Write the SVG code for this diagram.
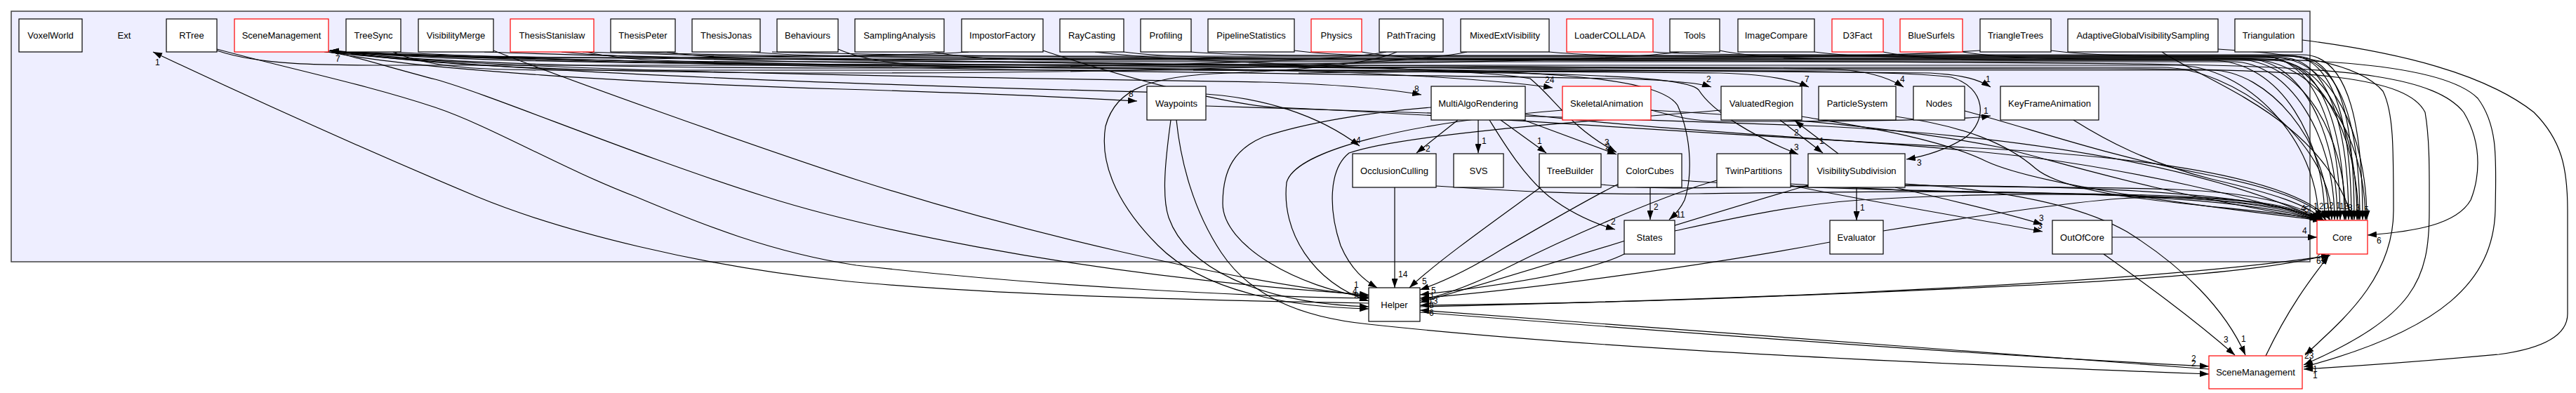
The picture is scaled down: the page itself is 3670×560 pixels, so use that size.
<svg xmlns="http://www.w3.org/2000/svg" width="3670" height="560" viewBox="0 0 3670 560">
<defs>
<marker id="ah" viewBox="0 0 13 9" refX="13" refY="4.5" markerWidth="13" markerHeight="9" markerUnits="userSpaceOnUse" orient="auto"><path d="M0,0 L13,4.5 L0,9 z" fill="#000"/></marker>
<style>
.n{fill:#fff;stroke:#000;stroke-width:1.2}
.r{fill:#fff;stroke:#ff0000;stroke-width:1.2}
.t{font-family:"Liberation Sans",Arial,Helvetica,sans-serif;font-size:13px;fill:#000;text-anchor:middle}
.e{fill:none;stroke:#000;stroke-width:1.2;marker-end:url(#ah)}
.l{font-family:"Liberation Sans",Arial,Helvetica,sans-serif;font-size:12px;fill:#000}
</style>
</defs>
<rect width="3670" height="560" fill="#fff"/>
<g id="cluster"><rect x="16" y="16" width="3275" height="357" fill="#eeeeff" stroke="#404040" stroke-width="1.5"/></g>

<g id="connectors">
<!-- into SceneManagement (top) -->
<path class="e" d="M2821,72 C2650,84 2200,84 1700,84 C1100,86 650,84 470,72"/>
<path class="e" d="M2392,74 C2300,88 1900,92 1500,92 C1000,92 650,90 470,72"/>
<path class="e" d="M1975,74 C1900,90 1500,97 1200,97 C900,97 620,92 470,72"/>
<path class="e" d="M2090,74 C2000,94 1600,104 1200,104 C850,104 620,95 470,72"/>
<path class="e" d="M1380,74 C1300,80 1000,82 800,82 C650,82 540,78 470,72"/>
<!-- Helper -> Ext -->
<path class="e" d="M1950,432 C1700,428 1400,420 1200,400 C1000,380 800,330 679,280 C560,230 400,160 218,74"/>
<!-- into Helper from left -->
<path class="e" d="M309,70 C420,100 520,120 620,153 C700,180 800,240 905,280 C1000,320 1100,360 1220,378 C1500,410 1800,423 1950,425"/>
<path class="e" d="M468,72 C520,85 570,100 620,113 C700,135 900,220 1090,280 C1200,315 1500,390 1950,420"/>
<path class="e" d="M703,72 C800,110 1050,200 1220,256 C1450,330 1750,400 1950,422"/>
<path class="e" d="M1668,171 C1660,230 1655,280 1665,310 C1690,380 1790,432 1950,437"/>
<path class="e" d="M1990,74 C1950,92 1850,100 1750,104 C1640,108 1590,125 1575,180 C1565,240 1600,300 1650,350 C1720,420 1850,438 1950,440"/>
<path class="e" d="M2039,153 C1950,160 1860,175 1800,195 C1760,212 1742,240 1742,290 C1742,350 1850,410 1950,424"/>
<path class="e" d="M2226,157 C2000,175 1845,215 1833,260 C1825,330 1870,402 1950,429"/>
<path class="e" d="M2452,157 C2300,170 2000,190 1922,218 C1892,242 1893,300 1910,350 C1925,385 1945,400 1962,410"/>
<!-- into Helper from top/right -->
<path class="e" d="M1987,267 L1987,410"/>
<path class="e" d="M2196,266 C2150,300 2050,370 2008,410"/>
<path class="e" d="M2306,262 C2260,285 2200,320 2140,355 C2100,380 2060,400 2023,413"/>
<path class="e" d="M2316,361 C2280,380 2200,400 2023,420"/>
<path class="e" d="M2607,345 C2450,375 2200,410 2023,425"/>
<path class="e" d="M2446,257 C2380,275 2250,330 2150,380 C2100,405 2060,420 2023,428"/>
<path class="e" d="M2576,264 C2450,300 2250,365 2023,431"/>
<path class="e" d="M3318,363 C3200,392 3000,405 2400,427 C2200,433 2100,434 2023,435"/>
<path class="e" d="M2023,437 C2300,431 3000,412 3320,364"/>
<path class="e" d="M3147,526 C2800,500 2400,470 2023,442"/>
<path class="e" d="M2023,445 C2400,474 2800,505 3147,522"/>
<path class="e" d="M1676,171 C1682,230 1700,300 1740,360 C1780,420 1850,452 1950,462 C2300,500 2800,520 3147,533"/>
<!-- middle edges -->
<path class="e" d="M468,74 C600,100 900,118 1200,127 C1400,133 1550,140 1620,144"/>
<path class="e" d="M466,74 C700,100 1200,108 1800,117 C1900,120 1980,127 2025,135"/>
<path class="e" d="M462,74 C900,92 1600,96 1800,100 C1950,103 2120,112 2212,125"/>
<path class="e" d="M464,74 C800,110 1400,125 1700,133 C1800,137 1880,165 1937,208"/>
<path class="e" d="M2077,171 L2018,218"/>
<path class="e" d="M2106,171 L2106,218"/>
<path class="e" d="M2138,171 L2203,218"/>
<path class="e" d="M2168,170 L2303,220"/>
<path class="e" d="M1560,74 C1700,92 2100,96 2180,112 C2215,140 2235,180 2303,217"/>
<path class="e" d="M2122,171 C2140,200 2170,250 2207,280 C2240,305 2270,318 2301,327"/>
<path class="e" d="M2351,267 L2351,313"/>
<path class="e" d="M1850,96 C2150,100 2360,104 2390,150 C2412,200 2410,255 2400,285 C2394,298 2386,306 2378,313"/>
<path class="e" d="M470,74 C900,96 2000,106 2300,112 C2380,114 2420,118 2438,124"/>
<path class="e" d="M560,74 C1000,100 2100,100 2450,104 C2520,106 2555,114 2577,124"/>
<path class="e" d="M690,74 C1200,92 2200,94 2600,98 C2660,100 2690,110 2712,124"/>
<path class="e" d="M830,74 C1400,92 2300,100 2750,104 C2800,107 2820,114 2836,124"/>
<path class="e" d="M2352,157 C2380,163 2400,172 2450,173 C2600,173 2795,172 2836,165"/>
<path class="e" d="M2536,171 L2597,218"/>
<path class="e" d="M2619,219 L2557,172"/>
<path class="e" d="M1700,100 C2200,102 2400,106 2420,128 C2440,160 2500,195 2562,220"/>
<path class="e" d="M1850,104 C2300,100 2700,98 2780,110 C2830,125 2832,172 2800,196 C2772,214 2745,222 2716,227"/>
<path class="e" d="M2645,267 L2645,314"/>
<path class="e" d="M2700,267 C2800,290 2880,310 2910,320"/>
<path class="e" d="M2551,264 C2650,285 2850,318 2910,330"/>
<path class="e" d="M3009,338 L3301,338"/>
<!-- into Core from middle nodes -->
<path class="e" d="M2683,329 C2800,310 2950,288 3020,283 C3150,276 3262,290 3302,313"/>
<path class="e" d="M2386,329 C2450,315 2550,292 2650,285 C2850,272 3200,270 3303,314"/>
<path class="e" d="M2396,257 C2600,272 2900,274 3060,278 C3200,282 3275,292 3305,314"/>
<path class="e" d="M2714,263 C2850,268 3000,266 3100,270 C3200,274 3278,290 3306,314"/>
<path class="e" d="M2551,262 C2620,266 2700,272 2800,274 C3000,276 3250,280 3307,314"/>
<path class="e" d="M2046,265 C2150,272 2250,278 2420,276 C2700,272 3150,265 3304,314"/>
<path class="e" d="M2281,263 C2350,270 2420,268 2500,266 C2800,262 3200,262 3305,313"/>
<path class="e" d="M2954,171 C3000,200 3060,232 3150,255 C3240,276 3290,292 3310,314"/>
<path class="e" d="M2799,158 C2900,185 3000,222 3150,250 C3250,270 3300,292 3314,314"/>
<path class="e" d="M2701,166 C2800,180 2860,205 2900,240 C2960,290 3200,292 3312,314"/>
<path class="e" d="M2567,166 C2650,180 2760,196 2830,230 C2900,262 3100,290 3308,314"/>
<path class="e" d="M2352,157 C2500,165 2700,180 2850,210 C2950,235 3050,270 3309,314"/>
<path class="e" d="M2173,163 C2400,190 2700,200 2900,225 C3050,245 3200,280 3311,314"/>
<path class="e" d="M1718,151 C1900,158 2300,168 2600,180 C2900,195 3150,240 3308,314"/>
<path class="e" d="M1486,72 C1600,110 1750,150 1820,153 C2100,165 2400,190 2800,210 C3100,225 3270,260 3320,313"/>
<!-- top row bundle into Core -->
<path class="e" d="M309,72 C370,93 460,93 560,93 L3100,93 C3200,93 3303,200 3303,313"/>
<path class="e" d="M560,74 C620,100 710,100 810,100 L3150,100 C3230,100 3318,200 3318,313"/>
<path class="e" d="M835,74 C895,88 985,88 1085,88 L3180,88 C3260,88 3326,190 3326,313"/>
<path class="e" d="M950,74 C1010,84 1100,84 1200,84 L3200,84 C3280,84 3330,190 3330,313"/>
<path class="e" d="M1070,74 C1130,80 1220,80 1320,80 L3220,80 C3300,80 3334,190 3334,313"/>
<path class="e" d="M1194,70 C1254,96 1344,96 1444,96 L3080,96 C3180,96 3322,200 3322,313"/>
<path class="e" d="M1330,74 C1390,86 1480,86 1580,86 L3240,86 C3310,86 3340,190 3340,313"/>
<path class="e" d="M1601,74 C1661,82 1751,82 1851,82 L3250,82 C3320,82 3346,190 3346,313"/>
<path class="e" d="M1697,74 C1757,79 1847,79 1947,79 L3260,79 C3330,79 3350,190 3350,313"/>
<path class="e" d="M1844,72 C1904,80 1994,80 2094,80 L3270,80 C3340,80 3354,190 3354,313"/>
<path class="e" d="M1940,74 C2000,85 2090,85 2190,85 L3230,85 C3320,85 3358,190 3358,313"/>
<path class="e" d="M2207,74 C2267,80 2357,80 2457,80 L3260,80 C3340,80 3362,190 3362,313"/>
<path class="e" d="M2355,74 C2415,78 2505,78 2605,78 L3280,78 C3350,78 3366,190 3366,313"/>
<path class="e" d="M2450,72 C2510,84 2600,84 2700,84 L3200,84 C3300,84 3370,190 3370,313"/>
<path class="e" d="M2585,74 C2645,82 2735,82 2835,82 L3240,82 C3320,82 3372,190 3372,313"/>
<path class="e" d="M2683,74 C2743,86 2833,86 2933,86 L3150,86 C3250,86 3312,200 3312,313"/>
<path class="e" d="M2796,74 C2856,84 2946,84 3046,84 L3180,84 C3280,84 3342,190 3342,313"/>
<path class="e" d="M2922,72 C2982,80 3072,80 3172,80 L3220,80 C3300,80 3360,190 3360,313"/>
<path class="e" d="M3080,74 C3150,120 3310,170 3352,313"/>
<!-- right side curves -->
<path class="e" d="M3160,70 C3260,76 3360,88 3395,130 C3410,160 3410,210 3410,300 C3410,400 3330,462 3284,506"/>
<path class="e" d="M3280,57 C3420,75 3540,105 3610,160 C3650,200 3658,240 3658,300 L3658,447 C3658,480 3620,497 3560,505 C3450,515 3350,522 3282,526"/>
<path class="e" d="M800,74 C1000,95 2000,98 3000,98 C3300,98 3430,110 3455,160 C3462,200 3461,250 3461,300 C3461,400 3440,450 3282,520"/>
<path class="e" d="M900,74 C1200,88 2500,84 3000,82 C3300,80 3480,90 3530,140 C3560,180 3556,230 3555,300 C3552,400 3480,470 3282,523"/>
<path class="e" d="M1100,74 C1500,86 2800,86 3100,92 C3350,96 3470,110 3510,160 C3540,210 3530,260 3520,285 C3500,320 3440,330 3373,335"/>
<path class="e" d="M3228,507 C3260,440 3290,400 3318,364"/>
<path class="e" d="M2714,262 C2850,270 2960,290 3030,330 C3110,380 3170,440 3199,506"/>
<path class="e" d="M2997,362 C3050,400 3120,450 3184,506"/>
</g>

<g id="edge-labels">
<text class="l" x="478" y="88">7</text>
<text class="l" x="221" y="93">1</text>
<text class="l" x="1929" y="410">1</text>
<text class="l" x="1927" y="419">4</text>
<text class="l" x="1929" y="425">2</text>
<text class="l" x="1608" y="138">8</text>
<text class="l" x="2015" y="131">8</text>
<text class="l" x="2201" y="118">24</text>
<text class="l" x="1932" y="204">4</text>
<text class="l" x="2031" y="216">2</text>
<text class="l" x="2111" y="205">1</text>
<text class="l" x="2190" y="205">1</text>
<text class="l" x="2286" y="207">3</text>
<text class="l" x="2287" y="213">2</text>
<text class="l" x="2295" y="320">2</text>
<text class="l" x="2356" y="299">2</text>
<text class="l" x="2388" y="310">11</text>
<text class="l" x="2431" y="117">2</text>
<text class="l" x="2571" y="117">7</text>
<text class="l" x="2707" y="117">4</text>
<text class="l" x="2829" y="117">1</text>
<text class="l" x="2826" y="162">1</text>
<text class="l" x="2592" y="205">1</text>
<text class="l" x="2556" y="193">2</text>
<text class="l" x="2556" y="214">3</text>
<text class="l" x="2731" y="236">3</text>
<text class="l" x="2650" y="300">1</text>
<text class="l" x="2905" y="315">3</text>
<text class="l" x="2903" y="326">3</text>
<text class="l" x="3280" y="333">4</text>
<text class="l" x="1992" y="395">14</text>
<text class="l" x="2026" y="405">5</text>
<text class="l" x="2039" y="418">5</text>
<text class="l" x="2037" y="427">1</text>
<text class="l" x="2035" y="433">13</text>
<text class="l" x="2036" y="439">8</text>
<text class="l" x="2036" y="450">6</text>
<text class="l" x="3122" y="515">2</text>
<text class="l" x="3122" y="522">2</text>
<text class="l" x="3168" y="488">3</text>
<text class="l" x="3193" y="487">1</text>
<text class="l" x="3283" y="511">23</text>
<text class="l" x="3295" y="530">1</text>
<text class="l" x="3295" y="539">1</text>
<text class="l" x="3386" y="347">6</text>
<text class="l" x="3300" y="367">22</text>
<text class="l" x="3300" y="376">65</text>
<text class="l" x="3278" y="301">4</text>
<text class="l" x="3283" y="303">5</text>
<text class="l" x="3296" y="298">1</text>
<text class="l" x="3304" y="298">20</text>
<text class="l" x="3318" y="297">2</text>
<text class="l" x="3328" y="297">1</text>
<text class="l" x="3333" y="298">13</text>
<text class="l" x="3345" y="300">8</text>
<text class="l" x="3356" y="300">3</text>
<text class="l" x="3368" y="303">5</text>
</g>

<g id="VoxelWorld"><rect class="n" x="27" y="27" width="90" height="47"/><text class="t" x="72" y="55">VoxelWorld</text></g>
<g id="Ext"><text class="t" x="177" y="55">Ext</text></g>
<g id="RTree"><rect class="n" x="237" y="27" width="72" height="47"/><text class="t" x="273" y="55">RTree</text></g>
<g id="SceneManagementTop"><rect class="r" x="334" y="27" width="134" height="47"/><text class="t" x="401" y="55">SceneManagement</text></g>
<g id="TreeSync"><rect class="n" x="493" y="27" width="78" height="47"/><text class="t" x="532" y="55">TreeSync</text></g>
<g id="VisibilityMerge"><rect class="n" x="596" y="27" width="107" height="47"/><text class="t" x="649.5" y="55">VisibilityMerge</text></g>
<g id="ThesisStanislaw"><rect class="r" x="727" y="27" width="119" height="47"/><text class="t" x="786.5" y="55">ThesisStanislaw</text></g>
<g id="ThesisPeter"><rect class="n" x="870" y="27" width="92" height="47"/><text class="t" x="916" y="55">ThesisPeter</text></g>
<g id="ThesisJonas"><rect class="n" x="986" y="27" width="97" height="47"/><text class="t" x="1034.5" y="55">ThesisJonas</text></g>
<g id="Behaviours"><rect class="n" x="1107" y="27" width="87" height="47"/><text class="t" x="1150.5" y="55">Behaviours</text></g>
<g id="SamplingAnalysis"><rect class="n" x="1218" y="27" width="127" height="47"/><text class="t" x="1281.5" y="55">SamplingAnalysis</text></g>
<g id="ImpostorFactory"><rect class="n" x="1370" y="27" width="116" height="47"/><text class="t" x="1428" y="55">ImpostorFactory</text></g>
<g id="RayCasting"><rect class="n" x="1510" y="27" width="91" height="47"/><text class="t" x="1555.5" y="55">RayCasting</text></g>
<g id="Profiling"><rect class="n" x="1625" y="27" width="72" height="47"/><text class="t" x="1661" y="55">Profiling</text></g>
<g id="PipelineStatistics"><rect class="n" x="1721" y="27" width="123" height="47"/><text class="t" x="1782.5" y="55">PipelineStatistics</text></g>
<g id="Physics"><rect class="r" x="1868" y="27" width="72" height="47"/><text class="t" x="1904" y="55">Physics</text></g>
<g id="PathTracing"><rect class="n" x="1965" y="27" width="91" height="47"/><text class="t" x="2010.5" y="55">PathTracing</text></g>
<g id="MixedExtVisibility"><rect class="n" x="2081" y="27" width="126" height="47"/><text class="t" x="2144" y="55">MixedExtVisibility</text></g>
<g id="LoaderCOLLADA"><rect class="r" x="2232" y="27" width="123" height="47"/><text class="t" x="2293.5" y="55">LoaderCOLLADA</text></g>
<g id="Tools"><rect class="n" x="2379" y="27" width="71" height="47"/><text class="t" x="2414.5" y="55">Tools</text></g>
<g id="ImageCompare"><rect class="n" x="2476" y="27" width="109" height="47"/><text class="t" x="2530.5" y="55">ImageCompare</text></g>
<g id="D3Fact"><rect class="r" x="2610" y="27" width="73" height="47"/><text class="t" x="2646.5" y="55">D3Fact</text></g>
<g id="BlueSurfels"><rect class="r" x="2707" y="27" width="89" height="47"/><text class="t" x="2751.5" y="55">BlueSurfels</text></g>
<g id="TriangleTrees"><rect class="n" x="2821" y="27" width="101" height="47"/><text class="t" x="2871.5" y="55">TriangleTrees</text></g>
<g id="AdaptiveGlobalVisibilitySampling"><rect class="n" x="2946" y="27" width="214" height="47"/><text class="t" x="3053" y="55">AdaptiveGlobalVisibilitySampling</text></g>
<g id="Triangulation"><rect class="n" x="3184" y="27" width="96" height="47"/><text class="t" x="3232" y="55">Triangulation</text></g>

<g id="Waypoints"><rect class="n" x="1634" y="123" width="84" height="48"/><text class="t" x="1676" y="151.5">Waypoints</text></g>
<g id="MultiAlgoRendering"><rect class="n" x="2039" y="123" width="134" height="48"/><text class="t" x="2106" y="151.5">MultiAlgoRendering</text></g>
<g id="SkeletalAnimation"><rect class="r" x="2226" y="123" width="126" height="48"/><text class="t" x="2289" y="151.5">SkeletalAnimation</text></g>
<g id="ValuatedRegion"><rect class="n" x="2452" y="123" width="115" height="48"/><text class="t" x="2509.5" y="151.5">ValuatedRegion</text></g>
<g id="ParticleSystem"><rect class="n" x="2591" y="123" width="110" height="48"/><text class="t" x="2646" y="151.5">ParticleSystem</text></g>
<g id="Nodes"><rect class="n" x="2726" y="123" width="73" height="48"/><text class="t" x="2762.5" y="151.5">Nodes</text></g>
<g id="KeyFrameAnimation"><rect class="n" x="2850" y="123" width="140" height="48"/><text class="t" x="2920" y="151.5">KeyFrameAnimation</text></g>

<g id="OcclusionCulling"><rect class="n" x="1927" y="219" width="119" height="48"/><text class="t" x="1986.5" y="247.5">OcclusionCulling</text></g>
<g id="SVS"><rect class="n" x="2071" y="219" width="71" height="48"/><text class="t" x="2106.5" y="247.5">SVS</text></g>
<g id="TreeBuilder"><rect class="n" x="2193" y="219" width="88" height="48"/><text class="t" x="2237" y="247.5">TreeBuilder</text></g>
<g id="ColorCubes"><rect class="n" x="2305" y="219" width="91" height="48"/><text class="t" x="2350.5" y="247.5">ColorCubes</text></g>
<g id="TwinPartitions"><rect class="n" x="2446" y="219" width="105" height="48"/><text class="t" x="2498.5" y="247.5">TwinPartitions</text></g>
<g id="VisibilitySubdivision"><rect class="n" x="2576" y="219" width="138" height="48"/><text class="t" x="2645" y="247.5">VisibilitySubdivision</text></g>

<g id="States"><rect class="n" x="2314" y="314" width="72" height="48"/><text class="t" x="2350" y="342.5">States</text></g>
<g id="Evaluator"><rect class="n" x="2607" y="314" width="76" height="48"/><text class="t" x="2645" y="342.5">Evaluator</text></g>
<g id="OutOfCore"><rect class="n" x="2924" y="314" width="85" height="48"/><text class="t" x="2966.5" y="342.5">OutOfCore</text></g>
<g id="Core"><rect class="r" x="3301" y="314" width="72" height="48"/><text class="t" x="3337" y="342.5">Core</text></g>
<g id="Helper"><rect class="n" x="1950" y="410" width="73" height="48"/><text class="t" x="1986.5" y="438.5">Helper</text></g>
<g id="SceneManagementBottom"><rect class="r" x="3147" y="507" width="133" height="47"/><text class="t" x="3213.5" y="535">SceneManagement</text></g>
</svg>
